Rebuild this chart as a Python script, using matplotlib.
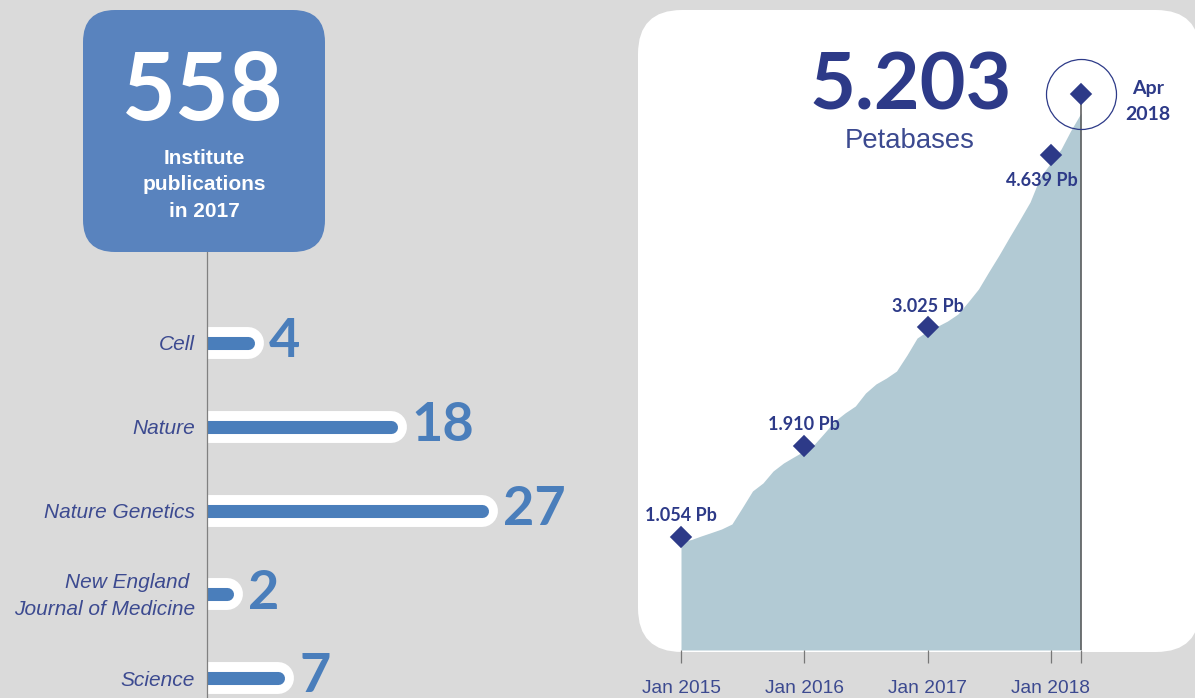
import matplotlib
matplotlib.use('Agg')
import matplotlib.pyplot as plt
from matplotlib.patches import FancyBboxPatch
import matplotlib.dates as mdates
import pandas as pd

# ---------------- data ----------------
journals = ['Cell', 'Nature', 'Nature Genetics', 'New England \nJournal of Medicine', 'Science']
pub_counts = [4, 18, 27, 2, 7]
total_pubs = '558'
total_label = 'Institute\npublications\nin 2017'

months = pd.date_range('2015-01-01', '2018-04-01', freq='MS')
petabases = [1.011, 1.035, 1.067, 1.100, 1.133, 1.180, 1.330, 1.489, 1.564, 1.676, 1.751, 1.807,
             1.863, 1.929, 2.032, 2.144, 2.219, 2.285, 2.406, 2.491, 2.547, 2.612, 2.762, 2.921,
             2.987, 3.034, 3.080, 3.146, 3.258, 3.380, 3.539, 3.698, 3.867, 4.026, 4.195, 4.429,
             4.560, 4.691, 4.860, 5.028]
milestone_dates = pd.to_datetime(['2015-01-01', '2016-01-01', '2017-01-01', '2018-01-01', '2018-04-01'])
milestone_values = [1.054, 1.910, 3.025, 4.639, 5.203]
milestone_labels = ['1.054 Pb', '1.910 Pb', '3.025 Pb', '4.639 Pb', 'Apr\n2018']
tick_labels = ['Jan 2015', 'Jan 2016', 'Jan 2017', 'Jan 2018', '']
headline = '5.203'
headline_unit = 'Petabases'

# ---------------- style ----------------
BG = '#dadada'
BOX = '#5983be'
BAR = '#4a7ebb'
NAVY = '#2d3a88'
NAVY2 = '#3c4a90'
AREA = '#b2cad4'
W, H = 1195, 698
PT = 0.72  # points per pixel at 100 dpi

fig = plt.figure(figsize=(W / 100, H / 100), dpi=100)
fig.patch.set_facecolor(BG)

bg = fig.add_axes([0, 0, 1, 1])
bg.set_xlim(0, W)
bg.set_ylim(H, 0)
bg.axis('off')

# blue box
bg.add_patch(FancyBboxPatch((83, 10), 242, 242, boxstyle='round,pad=0,rounding_size=32',
                            facecolor=BOX, edgecolor='none'))
bg.text(203, 120, total_pubs, ha='center', va='baseline', color='white',
        fontsize=67, fontweight='bold', family='Lato')
for k, line in enumerate(total_label.split('\n')):
    bg.text(204, 164 + 26.5 * k, line, ha='center', va='baseline', color='white',
            fontsize=15, fontweight='bold', family='Liberation Sans')

# white panel
bg.add_patch(FancyBboxPatch((638, 10), 562, 642, boxstyle='round,pad=0,rounding_size=44',
                            facecolor='white', edgecolor='none'))
bg.text(911, 110, headline, ha='center', va='baseline', color=NAVY,
        fontsize=57, fontweight='bold', family='Lato')
bg.text(910, 148, headline_unit, ha='center', va='baseline', color=NAVY2,
        fontsize=19.8, family='Liberation Sans')

# ---------------- bar panel ----------------
px_per_unit = 10.2
axb = fig.add_axes([207 / W, 0, 400 / W, (H - 252) / H])
axb.set_facecolor('none')
axb.set_xlim(0, 400 / px_per_unit)
axb.set_ylim(4 + (698 - 678) / 83.75, -(343 - 252) / 83.75)
for s in ['top', 'right', 'bottom']:
    axb.spines[s].set_visible(False)
axb.spines['left'].set_color('#808080')
axb.spines['left'].set_linewidth(0.9)
axb.set_xticks([])
axb.set_yticks([])
for i, (name, c) in enumerate(zip(journals, pub_counts)):
    axb.plot([0, c], [i, i], color='white', lw=23, solid_capstyle='round', zorder=1)
    axb.plot([0, c], [i, i], color=BAR, lw=9.4, solid_capstyle='round', zorder=1.5)
    axb.annotate(str(c), xy=(c, i), xytext=(15, -10.4), textcoords='offset points',
                 ha='left', va='baseline', fontsize=39, fontweight='bold', family='Lato',
                 color=BAR, annotation_clip=False)
    lines = name.split('\n')
    n = len(lines)
    for j, ln in enumerate(lines):
        dy_px = 7.5 + (j - (n - 1) / 2) * 27
        axb.annotate(ln, xy=(0, i), xytext=(-8.6, -dy_px * PT), textcoords='offset points',
                     ha='right', va='baseline', fontsize=15, style='italic',
                     family='Liberation Sans', color=NAVY2, annotation_clip=False)

# ---------------- area panel ----------------
d0 = mdates.date2num(milestone_dates[0])
d1 = mdates.date2num(milestone_dates[-1])
ppd = 400 / (d1 - d0)
axa = fig.add_axes([640 / W, (H - 650) / H, 555 / W, 640 / H])
axa.set_facecolor('none')
axa.set_xlim(d0 - 41 / ppd, d0 - 41 / ppd + 555 / ppd)
axa.set_ylim(0, 640 / 106.8)
for s in axa.spines.values():
    s.set_visible(False)
axa.fill_between(mdates.date2num(months), petabases, 0, color=AREA, lw=0)
axa.plot([d1, d1], [0, milestone_values[-1]], color='#555555', lw=1.1, zorder=3)
axa.plot(mdates.date2num(milestone_dates), milestone_values, 'D', ms=10, color=NAVY,
         mec=NAVY, mew=1.2, ls='none', clip_on=False, zorder=4)
axa.plot([d1], [milestone_values[-1]], 'o', ms=50.4, mfc='none', mec=NAVY, mew=0.9,
         clip_on=False, zorder=4)
label_offsets = [(0, 11.5), (0, 11.5), (0, 11), (-6.5, -23), (48, 0)]
for d, v, lab, off in zip(milestone_dates, milestone_values, milestone_labels, label_offsets):
    lines = lab.split('\n')
    fs = 14 if len(lines) > 1 else 13
    for j, ln in enumerate(lines):
        axa.annotate(ln, xy=(mdates.date2num(d), v), xytext=(off[0], off[1] - j * 26 * PT),
                     textcoords='offset points', ha='center', va='baseline', fontsize=fs,
                     fontweight='bold', family='Lato', color=NAVY, annotation_clip=False)
axa.set_yticks([])
axa.set_xticks(mdates.date2num(milestone_dates))
axa.set_xticklabels(tick_labels, family='Liberation Sans')
axa.tick_params(axis='x', length=9.4, width=0.9, color='#777777', labelsize=13.8,
                labelcolor=NAVY2, pad=12)

fig.savefig('out.png', dpi=100, facecolor=BG)
